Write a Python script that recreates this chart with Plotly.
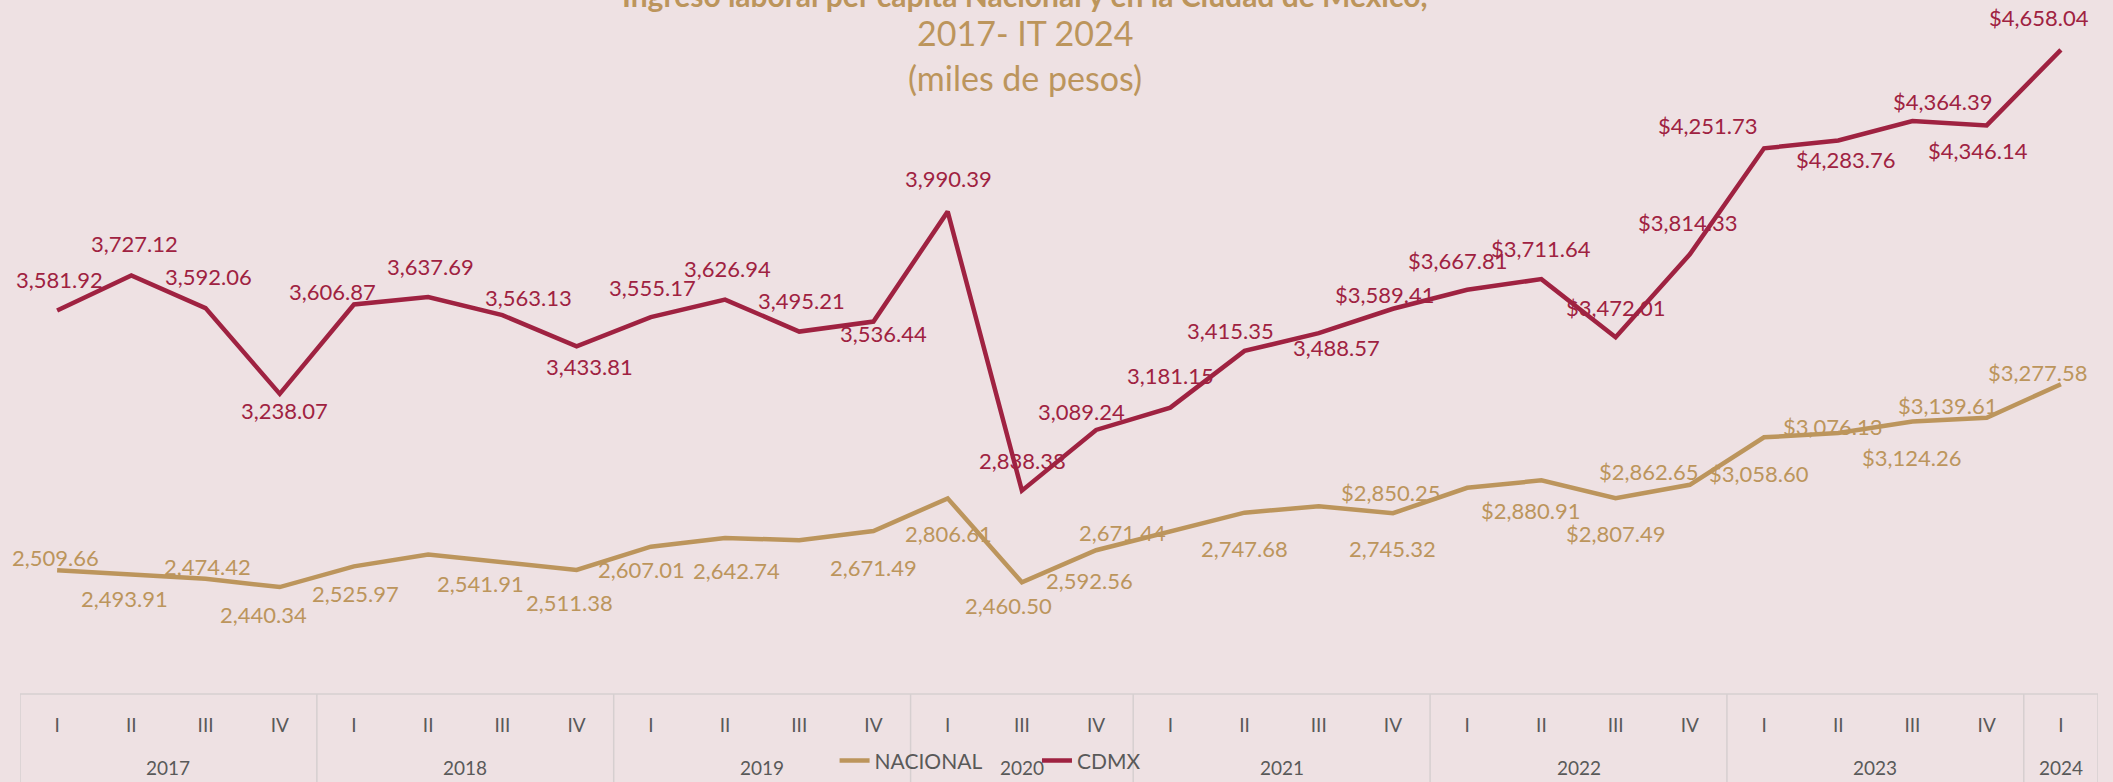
import plotly.graph_objects as go

# Ingreso laboral per capita, Nacional vs CDMX (trimestral)
YEARS = ["2017", "2018", "2019", "2020", "2021", "2022", "2023", "2024"]
QUARTERS = [
    ["I", "II", "III", "IV"],
    ["I", "II", "III", "IV"],
    ["I", "II", "III", "IV"],
    ["I", "III", "IV"],
    ["I", "II", "III", "IV"],
    ["I", "II", "III", "IV"],
    ["I", "II", "III", "IV"],
    ["I"],
]

NACIONAL = [
    2509.66, 2493.91, 2474.42, 2440.34,
    2525.97, 2575.00, 2541.91, 2511.38,
    2607.01, 2642.74, 2634.00, 2671.49,
    2806.61, 2460.50, 2592.56,
    2671.44, 2747.68, 2774.00, 2745.32,
    2850.25, 2880.91, 2807.49, 2862.65,
    3058.60, 3076.13, 3124.26, 3139.61,
    3277.58,
]
# points whose data label is not shown in the original
NACIONAL_UNLABELED = [5, 10, 17]

CDMX = [
    3581.92, 3727.12, 3592.06, 3238.07,
    3606.87, 3637.69, 3563.13, 3433.81,
    3555.17, 3626.94, 3495.21, 3536.44,
    3990.39, 2838.38, 3089.24,
    3181.15, 3415.35, 3488.57, 3589.41,
    3667.81, 3711.64, 3472.01, 3814.33,
    4251.73, 4283.76, 4364.39, 4346.14,
    4658.04,
]

# labels switch to "$" format from these indices on
NAC_DOLLAR_FROM = 19
CDMX_DOLLAR_FROM = 18

# label offsets in px (dx, dy; dy positive = down)
NAC_OFFSETS = [
    (-2, -13), (-7, 24), (2, -12), (-16, 27),
    (2, 27), None, (-22, 21), (-7, 33),
    (-9, 23), (11, 32), None, (0, 36),
    (1, 35), (-13, 23), (-7, 30),
    (-48, 1), (0, 36), None, (0, 35),
    (-76, 5), (-10, 30), (0, 35), (-41, -13),
    (-5, 36), (-5, -7), (0, 36), (-39, -12),
    (-23, -12),
]
CDMX_OFFSETS = [
    (2, -31), (3, -32), (3, -32), (5, 17),
    (-21, -13), (2, -31), (26, -18), (13, 20),
    (2, -30), (2, -31), (2, -31), (10, 12),
    (1, -33), (1, -30), (-15, -18),
    (0, -32), (-14, -20), (18, 14), (-8, -14),
    (-9, -29), (0, -31), (0, -30), (-2, -32),
    (-56, -23), (8, 19), (31, -20), (-9, 25),
    (-22, -32),
]

GOLD = "#BC955C"
GUINDA = "#9F2241"
GRAY = "#595959"
FONT = "Lato"

# flatten the two-level category axis
tick_text = []
group_bounds = []
for year, qs in zip(YEARS, QUARTERS):
    start = len(tick_text)
    tick_text.extend(qs)
    group_bounds.append((year, start, len(tick_text) - 1))
x = list(range(len(tick_text)))

fig = go.Figure()

fig.add_trace(go.Scatter(
    x=x, y=NACIONAL, mode="lines", name="NACIONAL", legend="legend",
    line=dict(color=GOLD, width=4.5), hoverinfo="y"
))
fig.add_trace(go.Scatter(
    x=x, y=CDMX, mode="lines", name="CDMX", legend="legend2",
    line=dict(color=GUINDA, width=4.5), hoverinfo="y"
))


def fmt(v, dollar):
    return ("$" if dollar else "") + f"{v:,.2f}"


annotations = []
for i, v in enumerate(NACIONAL):
    if i in NACIONAL_UNLABELED:
        continue
    dx, dy = NAC_OFFSETS[i]
    annotations.append(dict(
        x=i, y=v, xref="x", yref="y", text=fmt(v, i >= NAC_DOLLAR_FROM),
        showarrow=False, xshift=dx, yshift=-dy,
        font=dict(family=FONT, size=22, color=GOLD)
    ))
for i, v in enumerate(CDMX):
    dx, dy = CDMX_OFFSETS[i]
    annotations.append(dict(
        x=i, y=v, xref="x", yref="y", text=fmt(v, i >= CDMX_DOLLAR_FROM),
        showarrow=False, xshift=dx, yshift=-dy,
        font=dict(family=FONT, size=22, color=GUINDA)
    ))

# year labels under the quarters
for year, a, b in group_bounds:
    annotations.append(dict(
        x=(a + b) / 2, y=-0.1066, xref="x", yref="paper", text=year,
        showarrow=False, yanchor="middle",
        font=dict(family=FONT, size=19, color=GRAY)
    ))

# title block (first line is cut by the top edge in the original)
annotations += [
    dict(x=0.4836, y=0.978, xref="paper", yref="paper", xanchor="center", yanchor="bottom",
         text="<b>Ingreso laboral per cápita Nacional y en la Ciudad de México,</b>",
         showarrow=False, font=dict(family=FONT, size=30, color=GOLD)),
    dict(x=0.4836, y=(694 - 33) / 694, xref="paper", yref="paper", xanchor="center", yanchor="middle",
         text="2017- IT 2024", showarrow=False, font=dict(family=FONT, size=34, color=GOLD)),
    dict(x=0.4836, y=(694 - 78) / 694, xref="paper", yref="paper", xanchor="center", yanchor="middle",
         text="(miles de pesos)", showarrow=False, font=dict(family=FONT, size=34, color=GOLD)),
]

# category box: dividers between years
shapes = []
edges = [-0.5] + [b + 0.5 for _, _, b in group_bounds]
for e in edges:
    shapes.append(dict(type="line", xref="x", yref="paper", x0=e, x1=e, y0=0, y1=-0.2,
                       line=dict(color="#D6CFD0", width=1.5)))
shapes.append(dict(type="line", xref="x", yref="paper", x0=-0.5, x1=len(x) - 0.5, y0=0, y1=0,
                   line=dict(color="#D6CFD0", width=1.5)))

legend_style = dict(
    orientation="h", xanchor="left", y=-0.0965, yanchor="middle",
    bgcolor="rgba(0,0,0,0)", font=dict(family=FONT, size=21, color=GRAY),
    itemwidth=30
)

fig.update_layout(
    width=2113, height=782,
    margin=dict(l=20, r=15, t=0, b=88),
    paper_bgcolor="#EEE1E3",
    plot_bgcolor="rgba(0,0,0,0)",
    showlegend=True,
    legend=dict(x=0.392, **legend_style),
    legend2=dict(x=0.4894, **legend_style),
    xaxis=dict(
        range=[-0.5, len(x) - 0.5], tickmode="array", tickvals=x, ticktext=tick_text,
        showgrid=False, zeroline=False, showline=False, ticks="",
        ticklabelstandoff=18, tickfont=dict(family=FONT, size=19, color=GRAY)
    ),
    yaxis=dict(range=[1999, 4864], visible=False, showgrid=False, zeroline=False),
    annotations=annotations,
    shapes=shapes,
    font=dict(family=FONT),
)

fig.write_html("out.html", config={"displayModeBar": False},
               post_script="document.body.style.margin='0';")
